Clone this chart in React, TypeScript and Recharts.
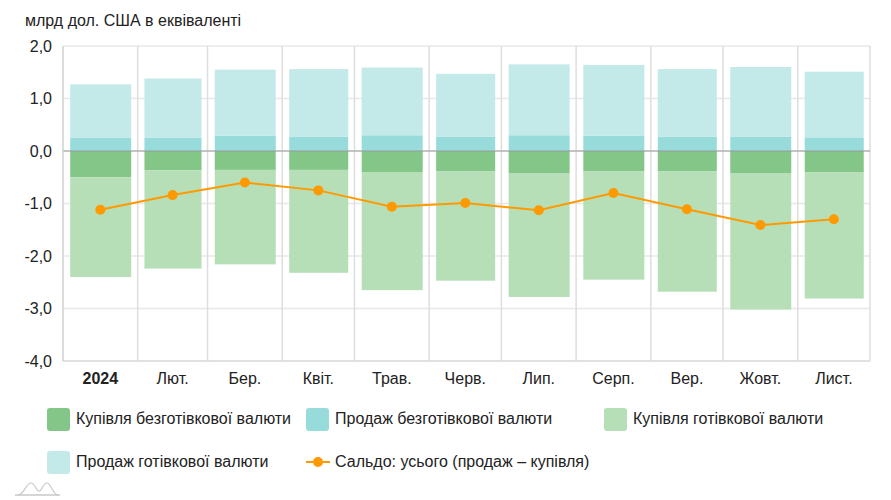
import {
  Bar,
  CartesianGrid,
  ComposedChart,
  Line,
  ReferenceLine,
  XAxis,
  YAxis,
} from 'recharts';

const months = ['2024', 'Лют.', 'Бер.', 'Квіт.', 'Трав.', 'Черв.', 'Лип.', 'Серп.', 'Вер.', 'Жовт.', 'Лист.'];
const monthDays = [31, 29, 31, 30, 31, 30, 31, 31, 30, 31, 30];

// billions USD equivalent
const cashlessSale = [0.25, 0.25, 0.29, 0.27, 0.3, 0.27, 0.3, 0.29, 0.27, 0.27, 0.26];
const cashSale = [1.02, 1.13, 1.26, 1.29, 1.29, 1.2, 1.35, 1.35, 1.29, 1.33, 1.25];
const cashlessPurchase = [-0.5, -0.37, -0.36, -0.36, -0.4, -0.39, -0.43, -0.39, -0.39, -0.43, -0.41];
const cashPurchase = [-1.9, -1.87, -1.8, -1.96, -2.25, -2.08, -2.35, -2.06, -2.29, -2.59, -2.4];
const saldo = [-1.12, -0.84, -0.6, -0.75, -1.06, -0.99, -1.13, -0.8, -1.11, -1.41, -1.3];

const yTicks = [-4, -3, -2, -1, 0, 1, 2];

const COLORS = {
  cashlessPurchase: '#83c687',
  cashlessSale: '#97dbdb',
  cashPurchase: '#b6dfb8',
  cashSale: '#c3e9e9',
  saldo: '#ff9900',
};

const FONT = '"Liberation Sans", Arial, sans-serif';

const monthEnds: number[] = [];
monthDays.reduce((acc, d) => {
  monthEnds.push(acc + d);
  return acc + d;
}, 0);
const monthMids = monthDays.map((d, i) => monthEnds[i] - d / 2);
const totalDays = monthEnds[monthEnds.length - 1];

const data = months.map((m, i) => ({
  month: m,
  days: monthDays[i],
  t: monthMids[i],
  cashlessSale: cashlessSale[i],
  cashSale: cashSale[i],
  cashlessPurchase: cashlessPurchase[i],
  cashPurchase: cashPurchase[i],
  saldo: saldo[i],
}));

const fmt = (v: number) => v.toFixed(1).replace('.', ',');

// bar width follows the month length (time axis)
function MonthBar(props: any) {
  const { x, y, width, height, fill, payload } = props;
  const w = (width * payload.days) / 31;
  let top = y;
  let h = height;
  if (h < 0) {
    top = y + h;
    h = -h;
  }
  return <rect x={x + (width - w) / 2} y={top} width={w} height={h} fill={fill} />;
}

function MonthTick(props: any) {
  const { x, y, index } = props;
  return (
    <text
      x={x}
      y={y}
      dy={15}
      textAnchor="middle"
      fontSize={16}
      fontFamily={FONT}
      fontWeight={index === 0 ? 'bold' : 'normal'}
      fill="#222"
    >
      {months[index]}
    </text>
  );
}

function Swatch({ color }: { color: string }) {
  return (
    <span
      style={{
        display: 'inline-block',
        width: 23,
        height: 23,
        borderRadius: 3,
        background: color,
        marginRight: 6,
      }}
    />
  );
}

function LineSwatch({ color }: { color: string }) {
  return (
    <svg width={24} height={12} style={{ marginRight: 5 }}>
      <line x1={0} y1={6} x2={24} y2={6} stroke={color} strokeWidth={2} />
      <circle cx={12} cy={6} r={5} fill={color} />
    </svg>
  );
}

const legendItems = [
  { label: 'Купівля безготівкової валюти', color: COLORS.cashlessPurchase, left: 47, top: 419 },
  { label: 'Продаж безготівкової валюти', color: COLORS.cashlessSale, left: 306, top: 419 },
  { label: 'Купівля готівкової валюти', color: COLORS.cashPurchase, left: 604, top: 419 },
  { label: 'Продаж готівкової валюти', color: COLORS.cashSale, left: 47, top: 462 },
  { label: 'Сальдо: усього (продаж – купівля)', color: COLORS.saldo, left: 306, top: 462, line: true },
];

export default function App() {
  return (
    <div
      style={{
        position: 'absolute',
        left: 0,
        top: 0,
        width: 891,
        height: 500,
        background: '#fff',
        fontFamily: FONT,
        color: '#222',
      }}
    >
      <div style={{ position: 'absolute', left: 25, top: 11, fontSize: 16, lineHeight: '20px' }}>
        млрд дол. США в еквіваленті
      </div>

      <ComposedChart
        width={891}
        height={400}
        data={data}
        stackOffset="sign"
        margin={{ top: 46, right: 21, left: 8, bottom: 9 }}
      >
        <CartesianGrid vertical={false} stroke="#e8e8e8" strokeWidth={1.5} />
        {monthEnds.map((d) => (
          <ReferenceLine key={d} x={d} stroke="#dedede" strokeWidth={1.5} />
        ))}
        <XAxis
          dataKey="t"
          type="number"
          domain={[0, totalDays]}
          ticks={monthMids}
          tickLine={false}
          axisLine={{ stroke: '#dcdcdc', strokeWidth: 1.5 }}
          tick={<MonthTick />}
          height={30}
        />
        <YAxis
          domain={[-4, 2]}
          ticks={yTicks}
          tickFormatter={fmt}
          tickLine={false}
          axisLine={{ stroke: '#d0d0d0', strokeWidth: 1.5 }}
          tickMargin={5}
          width={55}
          tick={{ fontSize: 16, fill: '#222', fontFamily: FONT }}
          interval={0}
        />
        <Bar dataKey="cashlessSale" stackId="a" barSize={61} fill={COLORS.cashlessSale} shape={<MonthBar />} isAnimationActive={false} />
        <Bar dataKey="cashSale" stackId="a" barSize={61} fill={COLORS.cashSale} shape={<MonthBar />} isAnimationActive={false} />
        <Bar dataKey="cashlessPurchase" stackId="a" barSize={61} fill={COLORS.cashlessPurchase} shape={<MonthBar />} isAnimationActive={false} />
        <Bar dataKey="cashPurchase" stackId="a" barSize={61} fill={COLORS.cashPurchase} shape={<MonthBar />} isAnimationActive={false} />
        <ReferenceLine y={0} stroke="#9a9a9a" strokeWidth={1} />
        <Line
          dataKey="saldo"
          stroke={COLORS.saldo}
          strokeWidth={2}
          dot={{ r: 5, fill: COLORS.saldo, stroke: COLORS.saldo, strokeWidth: 0 }}
          isAnimationActive={false}
        />
      </ComposedChart>

      {legendItems.map((it) => (
        <div
          key={it.label}
          style={{
            position: 'absolute',
            left: it.left,
            top: it.top - 12,
            height: 24,
            display: 'flex',
            alignItems: 'center',
            fontSize: 16,
            whiteSpace: 'nowrap',
          }}
        >
          {it.line ? <LineSwatch color={it.color} /> : <Swatch color={it.color} />}
          <span>{it.label}</span>
        </div>
      ))}

      <svg style={{ position: 'absolute', left: 0, top: 476 }} width={70} height={24}>
        <path d="M15 19 L60 19" stroke="#c8c8c8" strokeWidth={1.5} fill="none" />
        <path
          d="M18 19 C24 19 26 7 31 7 C35 7 36 15 39 15 C42 15 43 7 47 7 C51 7 53 19 58 19"
          stroke="#c8c8c8"
          strokeWidth={1.2}
          fill="none"
        />
      </svg>
    </div>
  );
}
